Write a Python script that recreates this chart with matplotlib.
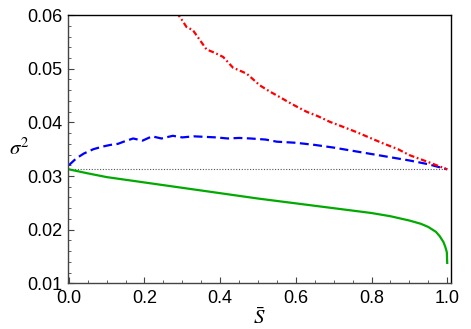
import numpy as np
import matplotlib
matplotlib.use("Agg")
import matplotlib.pyplot as plt
from matplotlib.ticker import MultipleLocator, FormatStrFormatter

plt.rcParams["mathtext.fontset"] = "stix"

S_green = [0.0, 0.05, 0.1, 0.2, 0.3, 0.4, 0.5, 0.6, 0.7, 0.8, 0.85, 0.9, 0.93, 0.95,
           0.97, 0.98, 0.99, 0.995, 0.999, 1.0]
V_green = [0.03125, 0.0305, 0.0298, 0.0288, 0.0278, 0.0268, 0.0258, 0.0249, 0.0240, 0.0231,
           0.0225, 0.0217, 0.0211, 0.0205, 0.0196, 0.0188, 0.0177, 0.0168, 0.0158, 0.0138]

S_blue = [0.0, 0.02, 0.04, 0.065, 0.09, 0.11, 0.13, 0.145, 0.17, 0.195, 0.22, 0.245, 0.275,
          0.30, 0.33, 0.36, 0.39, 0.42, 0.45, 0.48, 0.52, 0.55, 0.6, 0.65, 0.7, 0.75, 0.8,
          0.85, 0.9, 0.95, 1.0]
V_blue = [0.0320, 0.0333, 0.0342, 0.0350, 0.0355, 0.0358, 0.0360, 0.0364, 0.0370, 0.0366,
          0.0374, 0.0370, 0.0375, 0.0372, 0.0374, 0.0373, 0.0372, 0.0370, 0.0371, 0.0370,
          0.0368, 0.0364, 0.0362, 0.0358, 0.0353, 0.0347, 0.0341, 0.0335, 0.0329, 0.0322,
          0.03125]

S_red = [0.285, 0.30, 0.311, 0.328, 0.345, 0.364, 0.385, 0.408, 0.434, 0.47, 0.505, 0.53,
         0.558, 0.59, 0.628, 0.66, 0.69, 0.72, 0.76, 0.8, 0.83, 0.87, 0.9, 0.95, 1.0]
V_red = [0.0605, 0.0590, 0.0578, 0.0572, 0.0555, 0.0536, 0.0530, 0.0522, 0.0502, 0.0491,
         0.0469, 0.0458, 0.0447, 0.0434, 0.0420, 0.0411, 0.0401, 0.0393, 0.0382, 0.0370,
         0.0361, 0.0350, 0.0339, 0.0326, 0.03125]

REF = 1 / 32

fig = plt.figure(figsize=(4.71, 3.29), dpi=100)
ax = fig.add_axes([0.1444, 0.139, 0.8131, 0.815])

ax.plot([0, 1], [REF, REF], color="#555555", lw=0.8, ls=(0, (1, 1.5)))
ax.plot(S_green, V_green, color="#00aa00", lw=1.6)
ax.plot(S_blue, V_blue, color="#0000ff", lw=1.6, ls=(0, (4, 2)))
ax.plot(S_red, V_red, color="#ff0000", lw=1.6, ls=(0, (2.5, 1.2, 0.8, 1.2)))

ax.set_xlim(-0.002, 1.01)
ax.set_ylim(0.01, 0.06)
ax.xaxis.set_major_locator(MultipleLocator(0.2))
ax.xaxis.set_minor_locator(MultipleLocator(0.05))
ax.yaxis.set_major_locator(MultipleLocator(0.01))
ax.yaxis.set_minor_locator(MultipleLocator(0.002))
ax.xaxis.set_major_formatter(FormatStrFormatter("%.1f"))
ax.yaxis.set_major_formatter(FormatStrFormatter("%.2f"))
ax.tick_params(which="both", direction="in", top=False, right=False,
               labelsize=13, color="#444444")
ax.tick_params(axis="y", pad=4)
ax.tick_params(axis="x", pad=5)
ax.tick_params(which="major", length=4)
ax.tick_params(which="minor", length=2.2)
for lab in ax.get_xticklabels() + ax.get_yticklabels():
    lab.set_fontfamily("Liberation Sans")
for s in ("left", "bottom"):
    ax.spines[s].set_color("#444444")
for s in ax.spines.values():
    s.set_linewidth(1.0)

ax.set_xlabel(r"$\bar{S}$", fontsize=15, labelpad=0)
ax.set_ylabel(r"$\sigma^2$", fontsize=15, rotation=0, ha="right", va="center")
ax.yaxis.set_label_coords(-0.1, 0.505)

fig.savefig("out.png", dpi=100)
